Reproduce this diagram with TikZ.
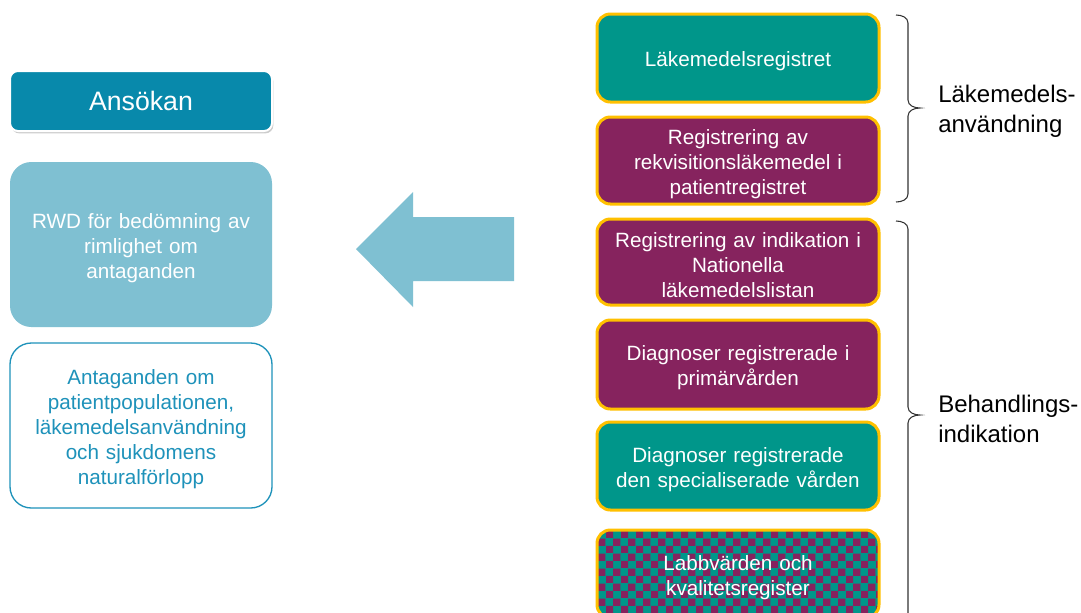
\documentclass[tikz,border=0pt]{standalone}
\usepackage{fontspec}
\setmainfont{Liberation Sans}
\usetikzlibrary{patterns,shadows}

\definecolor{ansok}{HTML}{0889AB}
\definecolor{rwd}{HTML}{7FC0D2}
\definecolor{antag}{HTML}{1E92BA}
\definecolor{regteal}{HTML}{00968A}
\definecolor{regpurple}{HTML}{86235E}
\definecolor{regborder}{HTML}{FFC000}
\definecolor{bracecol}{HTML}{333333}

\tikzset{
  % a tall strut on the first line sets the text block a little lower
  lowered/.style={execute at begin node={\rule{0pt}{16pt}}},
  leftbox/.style={rounded corners=16pt, minimum width=196.5pt, minimum height=123.75pt,
    text width=190pt, align=center, inner sep=0pt, lowered,
    font=\fontsize{15.5}{18.75}\selectfont},
  regbox/.style={draw=regborder, line width=2.25pt, rounded corners=10pt,
    minimum width=211.5pt, text width=205pt, align=center, inner sep=0pt, lowered,
    text=white, font=\fontsize{15.5}{18.75}\selectfont},
  teal/.style={regbox, fill=regteal},
  purple/.style={regbox, fill=regpurple},
  bracepath/.style={draw=bracecol, line width=0.8pt},
  bracelabel/.style={anchor=west, align=left, inner sep=0pt,
    font=\fontsize{18}{22.5}\selectfont}
}

\begin{document}
\begin{tikzpicture}[x=0.75pt, y=-0.75pt]
  \useasboundingbox (0,0) rectangle (1081,612);
  \fill[white] (0,0) rectangle (1081,612);
  \clip (0,0) rectangle (1081,612);

  % left column
  \node[fill=ansok, draw=white, line width=1.5pt, rounded corners=6pt,
        minimum width=196.5pt, minimum height=45pt, text=white,
        font=\fontsize{20}{24}\selectfont,
        drop shadow={opacity=0.4, shadow xshift=1pt, shadow yshift=-1.8pt}]
    (ansokan) at (141,101) {Ansökan};
  \node[leftbox, fill=rwd, text=white] (rwd) at (141,244.5)
    {RWD för bedömning av\\rimlighet om\\antaganden};
  \node[leftbox, draw=antag, line width=1pt, fill=white, text=antag] (antag) at (141,425.5)
    {Antaganden om\\patientpopulationen,\\läkemedelsanvändning\\och sjukdomens\\naturalförlopp};

  % block arrow pointing left
  \fill[rwd] (356,249) coordinate (tip) -- (413,192) -- (413,217) -- (514,217)
    -- (514,281) -- (413,281) -- (413,307) -- cycle;

  % register column
  \node[teal, minimum height=66pt] (r1) at (738,58) {Läkemedelsregistret};
  \node[purple, minimum height=65.25pt] (r2) at (738,160.5)
    {Registrering av\\rekvisitionsläkemedel i\\patientregistret};
  \node[purple, minimum height=64.5pt] (r3) at (738,262)
    {Registrering av indikation i\\Nationella\\läkemedelslistan};
  \node[purple, minimum height=66.75pt] (r4) at (738,364.5)
    {Diagnoser registrerade i\\primärvården};
  \node[teal, minimum height=66pt] (r5) at (738,466)
    {Diagnoser registrerade\\den specialiserade vården};
  \node[regbox, preaction={fill=regteal}, pattern=checkerboard, pattern color=regpurple,
        minimum height=66pt] (r6) at (738,574)
    {Labbvärden och\\kvalitetsregister};

  % braces
  \draw[bracepath] (896,15) to[out=0,in=90] (908,23) -- (908,100)
    to[out=-90,in=180] (920,108) coordinate (b1tip)
    to[out=180,in=90] (908,116) -- (908,194) to[out=-90,in=0] (896,202);
  \draw[bracepath] (896,221) to[out=0,in=90] (908,229) -- (908,407)
    to[out=-90,in=180] (920,415) coordinate (b2tip)
    to[out=180,in=90] (908,423) -- (908,640);

  \node[bracelabel] (lab1) at (938,111) {Läkemedels-\\användning};
  \node[bracelabel] (lab2) at (938,419) {Behandlings-\\indikation};
\end{tikzpicture}
\end{document}
